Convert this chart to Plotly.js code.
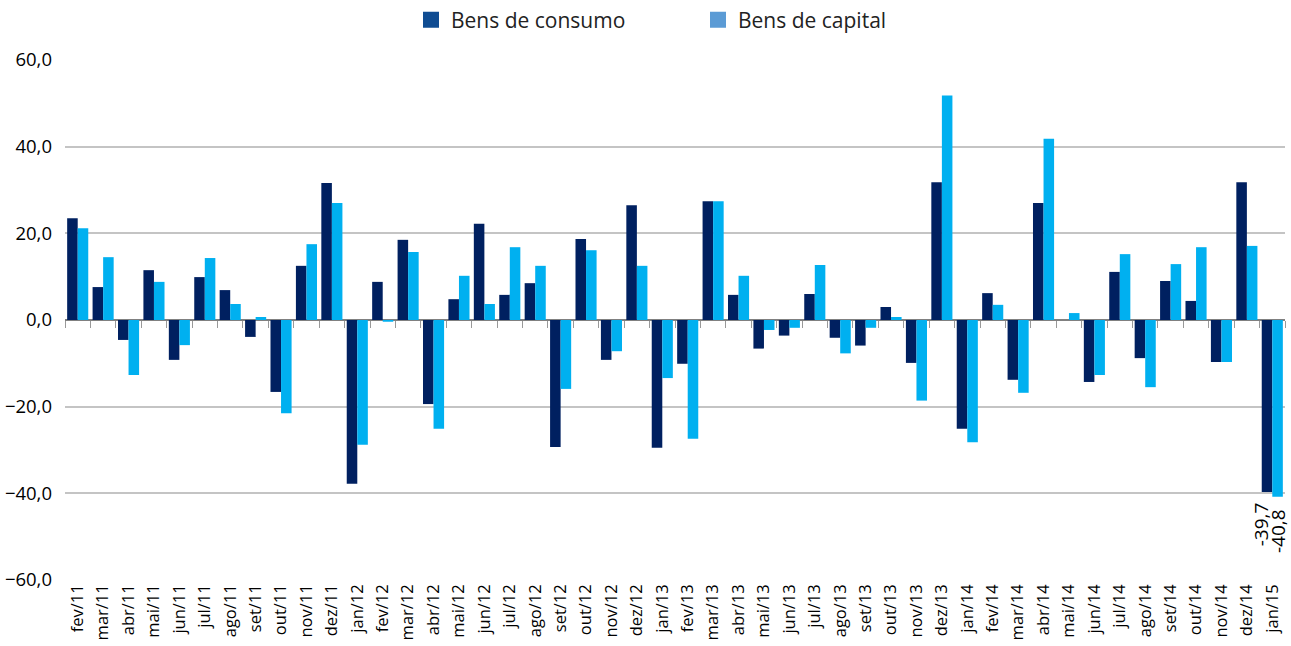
<!DOCTYPE html>
<html>
<head>
<meta charset="utf-8">
<script src="https://cdn.plot.ly/plotly-3.0.1.min.js"></script>
<style>html,body{margin:0;padding:0;background:#fff;}#chart{width:1291px;height:646px;}</style>
</head>
<body>
<div id="chart"></div>
<script>
const categories = ["fev/11","mar/11","abr/11","mai/11","jun/11","jul/11","ago/11","set/11","out/11","nov/11","dez/11",
"jan/12","fev/12","mar/12","abr/12","mai/12","jun/12","jul/12","ago/12","set/12","out/12","nov/12","dez/12",
"jan/13","fev/13","mar/13","abr/13","mai/13","jun/13","jul/13","ago/13","set/13","out/13","nov/13","dez/13",
"jan/14","fev/14","mar/14","abr/14","mai/14","jun/14","jul/14","ago/14","set/14","out/14","nov/14","dez/14",
"jan/15"];
const bensConsumo = [23.5,7.6,-4.6,11.5,-9.2,9.9,6.9,-3.9,-16.6,12.5,31.6,
-37.8,8.8,18.5,-19.4,4.8,22.2,5.8,8.5,-29.3,18.7,-9.2,26.5,
-29.5,-10.1,27.4,5.8,-6.6,-3.6,6.0,-4.1,-5.9,3.0,-9.9,31.8,
-25.1,6.2,-13.8,27.0,0.0,-14.3,11.1,-8.8,9.0,4.4,-9.7,31.8,
-39.7];
const bensCapital = [21.2,14.5,-12.7,8.8,-5.8,14.3,3.7,0.7,-21.5,17.5,27.0,
-28.8,-0.4,15.7,-25.1,10.2,3.7,16.8,12.5,-15.9,16.1,-7.2,12.5,
-13.4,-27.4,27.4,10.2,-2.3,-1.8,12.7,-7.7,-1.8,0.7,-18.6,51.8,
-28.2,3.5,-16.8,41.8,1.6,-12.7,15.2,-15.5,12.9,16.8,-9.7,17.1,
-40.8];
const yTicks = [-60,-40,-20,0,20,40,60];
const seriesNames = ["Bens de consumo","Bens de capital"];

const fmt = v => v.toFixed(1).replace('.', ',');
const font = "'Open Sans', 'Liberation Sans', sans-serif";
const last = categories.length - 1;

const traces = [
  {type:'bar', x:categories, y:bensConsumo, name:seriesNames[0], marker:{color:'#002060'},
   showlegend:false, offsetgroup:'a'},
  {type:'bar', x:categories, y:bensCapital, name:seriesNames[1], marker:{color:'#00B0F0'},
   showlegend:false, offsetgroup:'b'},
  {type:'scatter', mode:'markers', x:[categories[0]], y:[null], name:seriesNames[0],
   marker:{color:'#0F4C92', symbol:'square', size:16}, showlegend:true},
  {type:'scatter', mode:'markers', x:[categories[0]], y:[null], name:seriesNames[1],
   marker:{color:'#5B9BD5', symbol:'square', size:16}, showlegend:true},
  {type:'bar', x:categories, y:categories.map(()=>null), xaxis:'x2', showlegend:false}
];

const annotations = [
  {x:categories[last], y:bensConsumo[last], xref:'x', yref:'y', text:fmt(bensConsumo[last]), showarrow:false,
   textangle:-90, xanchor:'center', yanchor:'top', xshift:-11, yshift:-8, font:{family:font, size:19, color:'#000'}},
  {x:categories[last], y:bensCapital[last], xref:'x', yref:'y', text:fmt(bensCapital[last]), showarrow:false,
   textangle:-90, xanchor:'center', yanchor:'top', xshift:6, yshift:-10, font:{family:font, size:19, color:'#000'}}
];

const layout = {
  width:1291, height:646,
  margin:{l:65, r:6, t:60, b:66},
  paper_bgcolor:'#fff', plot_bgcolor:'#fff',
  barmode:'group', bargap:0.17, bargroupgap:0,
  separators:',.',
  font:{family:font, color:'#000'},
  showlegend:true,
  legend:{orientation:'h', xref:'container', yref:'container', x:411/1291, xanchor:'left', y:1-20/646, yanchor:'middle',
          font:{family:font, size:21, color:'#222'}, traceorder:'normal', entrywidth:242, entrywidthmode:'pixels'},
  annotations:annotations,
  xaxis:{type:'category', categoryarray:categories, range:[-0.5, categories.length-0.5], autorange:false,
         tickangle:-90, showgrid:false, showline:false,
         ticks:'', tickfont:{family:font, size:16.5, color:'#000'}, zeroline:false},
  xaxis2:{type:'category', categoryarray:categories, overlaying:'x', anchor:'free', position:0.5,
          matches:'x', showticklabels:false, ticks:'outside', tickson:'boundaries', ticklen:7,
          tickcolor:'#999', tickwidth:1, showgrid:false, showline:false, zeroline:false},
  yaxis:{range:[-60,60], tickvals:yTicks, tickformat:'.1f', showgrid:true, gridcolor:'#C4C4C4', gridwidth:2,
         zeroline:true, zerolinecolor:'#808080', zerolinewidth:2.5, showline:false, ticks:'',
         tickfont:{family:font, size:18.5, color:'#000'}, ticklabelstandoff:12},
  hovermode:false
};

Plotly.newPlot('chart', traces, layout, {displayModeBar:false, staticPlot:true});
</script>
</body>
</html>
